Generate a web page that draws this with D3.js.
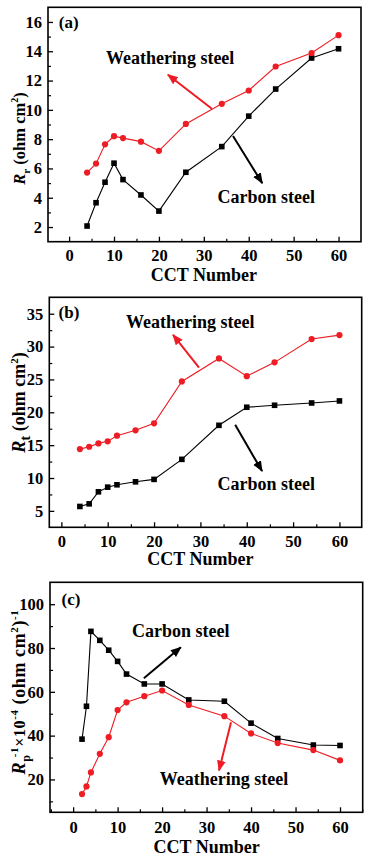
<!DOCTYPE html>
<html><head><meta charset="utf-8">
<script src="https://cdn.jsdelivr.net/npm/d3@7"></script>
<style>
html,body{margin:0;padding:0;background:#fff;}
svg text{font-family:"Liberation Serif","Times New Roman",serif;font-weight:bold;fill:#000;}
</style></head>
<body><svg id="chart" width="368" height="860"></svg>
<script>
// ---- data ----
const cctAB = [4, 6, 8, 10, 12, 16, 20, 26, 34, 40, 46, 54, 60];
const rrWeathering = [5.72, 6.33, 7.65, 8.2, 8.07, 7.83, 7.2, 9.04, 10.41, 11.32, 12.96, 13.88, 15.1];
const rrCarbon = [2.07, 3.66, 5.06, 6.36, 5.24, 4.19, 3.09, 5.74, 7.49, 9.57, 11.42, 13.54, 14.17];
const rtWeathering = [14.4, 14.76, 15.27, 15.58, 16.44, 17.26, 18.32, 24.7, 28.2, 25.5, 27.6, 31.15, 31.75];
const rtCarbon = [5.67, 6.07, 7.9, 8.61, 8.97, 9.42, 9.79, 12.84, 18.02, 20.77, 21.07, 21.42, 21.73];
const cctC = [2, 3, 4, 6, 8, 10, 12, 16, 20, 26, 34, 40, 46, 54, 60];
const rpWeathering = [13.3, 16.8, 23.2, 31.7, 39.3, 51.7, 55.2, 58.0, 60.6, 54.0, 48.9, 41.0, 36.6, 33.4, 28.7];
const rpCarbon = [38.4, 53.4, 87.6, 83.5, 79.0, 73.9, 68.1, 63.6, 63.6, 56.3, 55.7, 45.7, 38.7, 35.7, 35.5];
const xTicks = [0, 10, 20, 30, 40, 50, 60];
const yTicksA = [2, 4, 6, 8, 10, 12, 14, 16];
const yTicksB = [5, 10, 15, 20, 25, 30, 35];
const yTicksC = [20, 40, 60, 80, 100];

const RED = "#ee1c24", BLACK = "#000";
const svg = d3.select("#chart");
const defs = svg.append("defs");
[["arrRed", RED], ["arrBlack", BLACK]].forEach(([id, c]) => {
  defs.append("marker").attr("id", id).attr("viewBox", "0 0 10 10")
    .attr("refX", 9).attr("refY", 5).attr("markerWidth", 5.5).attr("markerHeight", 5.5)
    .attr("orient", "auto").attr("markerUnits", "strokeWidth")
    .append("path").attr("d", "M0,1 L10,5 L0,9 z").attr("fill", c);
});

function panel(cfg) {
  const x = d3.scaleLinear().domain(cfg.xDomain).range([cfg.left, cfg.right]);
  const y = d3.scaleLinear().domain(cfg.yDomain).range([cfg.bottom, cfg.top]);
  const g = svg.append("g");
  g.append("rect").attr("x", cfg.left).attr("y", cfg.top)
    .attr("width", cfg.right - cfg.left).attr("height", cfg.bottom - cfg.top)
    .attr("fill", "none").attr("stroke", "#000").attr("stroke-width", 1.6);
  const xMinor = [-5, 5, 15, 25, 35, 45, 55, 65].filter(v => v > cfg.xDomain[0] && v < cfg.xDomain[1]);
  const ax = d3.axisBottom(x).tickValues(cfg.xTicks).tickSize(-5).tickPadding(cfg.tickPad).tickFormat(d3.format("d"));
  const gx = g.append("g").attr("transform", `translate(0,${cfg.bottom})`).call(ax);
  gx.select(".domain").remove();
  gx.selectAll(".tick line").attr("stroke-width", 1.3);
  gx.selectAll(".tick text").attr("font-size", 16.5).attr("font-family", "Liberation Serif").attr("font-weight", "bold").attr("fill", "#000");
  const gxm = g.append("g").attr("transform", `translate(0,${cfg.bottom})`)
    .call(d3.axisBottom(x).tickValues(xMinor).tickSize(-3).tickFormat(""));
  gxm.select(".domain").remove();
  gxm.selectAll(".tick line").attr("stroke-width", 1.2);
  const ay = d3.axisLeft(y).tickValues(cfg.yTicks).tickSize(-5).tickPadding(6).tickFormat(d3.format("d"));
  const gy = g.append("g").attr("transform", `translate(${cfg.left},0)`).call(ay);
  gy.select(".domain").remove();
  gy.selectAll(".tick line").attr("stroke-width", 1.3);
  gy.selectAll(".tick text").attr("font-size", 16.5).attr("font-family", "Liberation Serif").attr("font-weight", "bold").attr("fill", "#000");
  const gym = g.append("g").attr("transform", `translate(${cfg.left},0)`)
    .call(d3.axisLeft(y).tickValues(cfg.yMinor).tickSize(-3).tickFormat(""));
  gym.select(".domain").remove();
  gym.selectAll(".tick line").attr("stroke-width", 1.2);

  cfg.series.forEach(s => {
    const line = d3.line().x((d, i) => x(cfg.xs[i])).y(d => y(d));
    g.append("path").datum(s.values).attr("d", line).attr("fill", "none")
      .attr("stroke", s.color).attr("stroke-width", 1.1);
    if (s.shape === "circle") {
      g.selectAll(null).data(s.values).join("circle")
        .attr("cx", (d, i) => x(cfg.xs[i])).attr("cy", d => y(d)).attr("r", 3.1).attr("fill", s.color);
    } else {
      g.selectAll(null).data(s.values).join("rect")
        .attr("x", (d, i) => x(cfg.xs[i]) - 2.8).attr("y", d => y(d) - 2.8)
        .attr("width", 5.6).attr("height", 5.6).attr("fill", s.color);
    }
  });
  cfg.notes.forEach(n => {
    g.append("text").attr("x", x(n.tx)).attr("y", y(n.ty)).attr("text-anchor", "middle")
      .attr("font-size", 18).text(n.text);
    g.append("line").attr("x1", x(n.a[0])).attr("y1", y(n.a[1])).attr("x2", x(n.a[2])).attr("y2", y(n.a[3]))
      .attr("stroke", n.color).attr("stroke-width", 2).attr("marker-end", `url(#${n.color === RED ? "arrRed" : "arrBlack"})`);
  });
  g.append("text").attr("x", x(cfg.label.x)).attr("y", y(cfg.label.y)).attr("font-size", 17).text(cfg.label.t);
  g.append("text").attr("x", x(30)).attr("y", cfg.bottom + cfg.xTitleOff).attr("text-anchor", "middle")
    .attr("font-size", 18).text("CCT Number");
  const yt = g.append("text").attr("transform", `translate(${cfg.yTitleX},${cfg.yTitleY}) rotate(-90)`)
    .attr("text-anchor", "middle").attr("font-size", cfg.yTitleSize).attr("letter-spacing", cfg.yTitleLs || 0);
  cfg.yTitle(yt);
  return g;
}

// (a)
panel({
  left: 48, right: 361, top: 7.3, bottom: 241.7,
  xDomain: [-4.7, 65], yDomain: [1, 17],
  xTicks: xTicks, yTicks: yTicksA, yMinor: [3, 5, 7, 9, 11, 13, 15],
  xs: cctAB, tickPad: 8, xTitleOff: 39,
  series: [
    {values: rrCarbon, color: BLACK, shape: "square"},
    {values: rrWeathering, color: RED, shape: "circle"}
  ],
  notes: [
    {text: "Weathering steel", tx: 22.5, ty: 13.1, color: RED, a: [31.8, 10.07, 22.0, 12.4]},
    {text: "Carbon steel", tx: 43.9, ty: 3.64, color: BLACK, a: [36.5, 8.22, 43.0, 5.0]}
  ],
  label: {x: -2.3, y: 15.6, t: "(a)"},
  yTitleX: 25, yTitleY: 138.5, yTitleSize: 16.5,
  yTitle: t => {
    t.append("tspan").attr("font-style", "italic").text("R");
    t.append("tspan").attr("font-size", 11).attr("dy", 5).text("r");
    t.append("tspan").attr("dy", -5).text(" (ohm cm");
    t.append("tspan").attr("font-size", 10).attr("dy", -7).text("2");
    t.append("tspan").attr("dy", 7).text(")");
  }
});

// (b)
panel({
  left: 49.3, right: 361.7, top: 297.3, bottom: 527.3,
  xDomain: [-2.6, 64.8], yDomain: [2.5, 37.5],
  xTicks: xTicks, yTicks: yTicksB, yMinor: [7.5, 12.5, 17.5, 22.5, 27.5, 32.5],
  xs: cctAB, tickPad: 8, xTitleOff: 38,
  series: [
    {values: rtCarbon, color: BLACK, shape: "square"},
    {values: rtWeathering, color: RED, shape: "circle"}
  ],
  notes: [
    {text: "Weathering steel", tx: 27.8, ty: 32.9, color: RED, a: [29.7, 26.8, 24.1, 31.8]},
    {text: "Carbon steel", tx: 44.2, ty: 8.15, color: BLACK, a: [37.5, 18.1, 43.3, 11.05]}
  ],
  label: {x: -0.6, y: 34.4, t: "(b)"},
  yTitleX: 25, yTitleY: 402.5, yTitleSize: 18,
  yTitle: t => {
    t.append("tspan").attr("font-style", "italic").text("R");
    t.append("tspan").attr("font-size", 15).attr("dy", 5).text("t");
    t.append("tspan").attr("dy", -5).text(" (ohm cm");
    t.append("tspan").attr("font-size", 11).attr("dy", -7).text("2");
    t.append("tspan").attr("dy", 7).text(")");
  }
});

// (c)
panel({
  left: 50, right: 362.7, top: 582.3, bottom: 812.3,
  xDomain: [-5.2, 65.1], yDomain: [5, 110],
  xTicks: xTicks, yTicks: yTicksC, yMinor: [10, 30, 50, 70, 90],
  xs: cctC, tickPad: 8.5, xTitleOff: 40.5,
  series: [
    {values: rpCarbon, color: BLACK, shape: "square"},
    {values: rpWeathering, color: RED, shape: "circle"}
  ],
  notes: [
    {text: "Carbon steel", tx: 24.2, ty: 84.9, color: BLACK, a: [15.9, 66.2, 24.2, 80.3]},
    {text: "Weathering steel", tx: 33.9, ty: 17.3, color: RED, a: [35.5, 46.1, 32.8, 24.1]}
  ],
  label: {x: -2.6, y: 99.5, t: "(c)"},
  yTitleX: 25, yTitleY: 692, yTitleSize: 18, yTitleLs: 0.6,
  yTitle: t => {
    t.append("tspan").attr("font-style", "italic").text("R");
    t.append("tspan").attr("font-size", 12).attr("dy", 5).text("p");
    t.append("tspan").attr("font-size", 11).attr("dx", -6).attr("dy", -12).text(" -1");
    t.append("tspan").attr("dy", 7).attr("font-size", 16).text("\u00d710");
    t.append("tspan").attr("font-size", 11).attr("dy", -7).text("-4");
    t.append("tspan").attr("dy", 7).text(" (ohm cm");
    t.append("tspan").attr("font-size", 11).attr("dy", -7).text("2");
    t.append("tspan").attr("dy", 7).text(")");
    t.append("tspan").attr("font-size", 11).attr("dy", -7).text("-1");
  }
});
</script></body></html>
